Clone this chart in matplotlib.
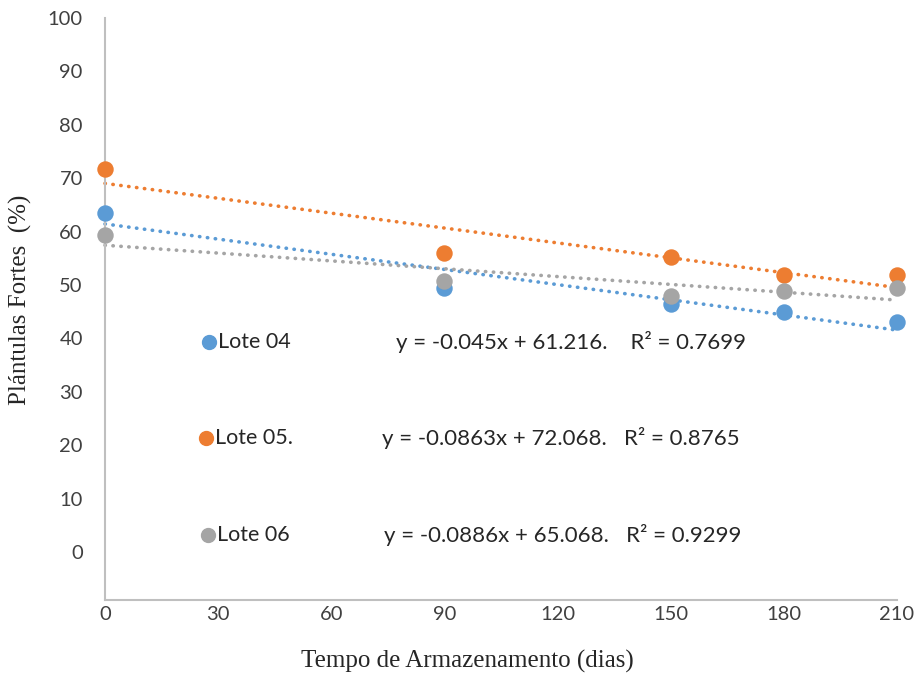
import numpy as np
import matplotlib
matplotlib.use("Agg")
import matplotlib.pyplot as plt

# Data
dias = [0, 90, 150, 180, 210]
lote04 = [63.5, 49.5, 46.5, 45.0, 43.0]
lote05 = [71.7, 56.0, 55.3, 51.8, 51.8]
lote06 = [59.3, 50.8, 48.0, 48.8, 49.5]
series_names = ["Lote 04", "Lote 05.", "Lote 06"]
equations = ["y = -0.045x + 61.216.    R\u00b2 = 0.7699",
             "y = -0.0863x + 72.068.   R\u00b2 = 0.8765",
             "y = -0.0886x + 65.068.   R\u00b2 = 0.9299"]
xticks = [0, 30, 60, 90, 120, 150, 180, 210]
yticks = [0, 10, 20, 30, 40, 50, 60, 70, 80, 90, 100]

colors = ["#5B9BD5", "#ED7D31", "#A5A5A5"]

fig = plt.figure(figsize=(9.18, 6.95), dpi=100)
ax = fig.add_axes([105/918, (695-600)/695, (897-105)/918, (600-18)/695])

sans = "Lato"
serif = "Liberation Serif"

x = np.array(dias, dtype=float)
for ys, c in zip([lote04, lote05, lote06], colors):
    p = np.polyfit(x, ys, 1)
    xx = np.array([0, 210])
    ax.plot(xx, np.polyval(p, xx), color=c, lw=2.6,
            linestyle=(0, (0.1, 2.1)), dash_capstyle="round", zorder=2, clip_on=False)
for ys, c in zip([lote04, lote05, lote06], colors):
    ax.scatter(x, ys, s=140, color=c, zorder=3, clip_on=False, linewidths=0)

ax.set_xlim(0, 210)
ax.set_ylim(-9, 100)
ax.set_xticks(xticks)
ax.set_yticks(yticks)
ax.tick_params(length=0, labelsize=14.5, colors="#404040")
ax.tick_params(axis="y", pad=16)
ax.tick_params(axis="x", pad=4)
for lab in ax.get_xticklabels() + ax.get_yticklabels():
    lab.set_fontfamily(sans)
for s in ["top", "right"]:
    ax.spines[s].set_visible(False)
for s in ["left", "bottom"]:
    ax.spines[s].set_color("#BFBFBF")
    ax.spines[s].set_linewidth(1.5)

ax.set_xlabel("Tempo de Armazenamento (dias)", fontfamily=serif, fontsize=18,
              color="#262626")
ax.set_ylabel("Plántulas Fortes  (%)", fontfamily=serif, fontsize=18,
              color="#262626")
ax.xaxis.set_label_coords(0.458, -0.086)
ax.yaxis.set_label_coords(-0.092, 0.515)

# in-plot legend with equations (pixel positions converted to axes fraction)
def axpos(px, py):
    return ((px - 105) / (897 - 105), (600 - py) / (600 - 18))

leg_pos = [(209, 342), (206, 438), (208, 535)]
eq_x = [396, 382, 384]
for (px, py), name, eq, c, ex in zip(leg_pos, series_names, equations, colors, eq_x):
    mx, my = axpos(px, py)
    ax.plot([mx], [my], marker="o", ms=10, color=c, transform=ax.transAxes,
            clip_on=False, ls="none")
    tx, _ = axpos(px + 9, py)
    ax.text(tx, my, name, transform=ax.transAxes, fontfamily=sans, fontsize=15.5,
            va="center", ha="left", color="#262626")
    ex_, _ = axpos(ex, py)
    ax.text(ex_, my, eq, transform=ax.transAxes, fontfamily=sans, fontsize=16,
            va="center", ha="left", color="#262626")

fig.savefig("out.png", dpi=100)
